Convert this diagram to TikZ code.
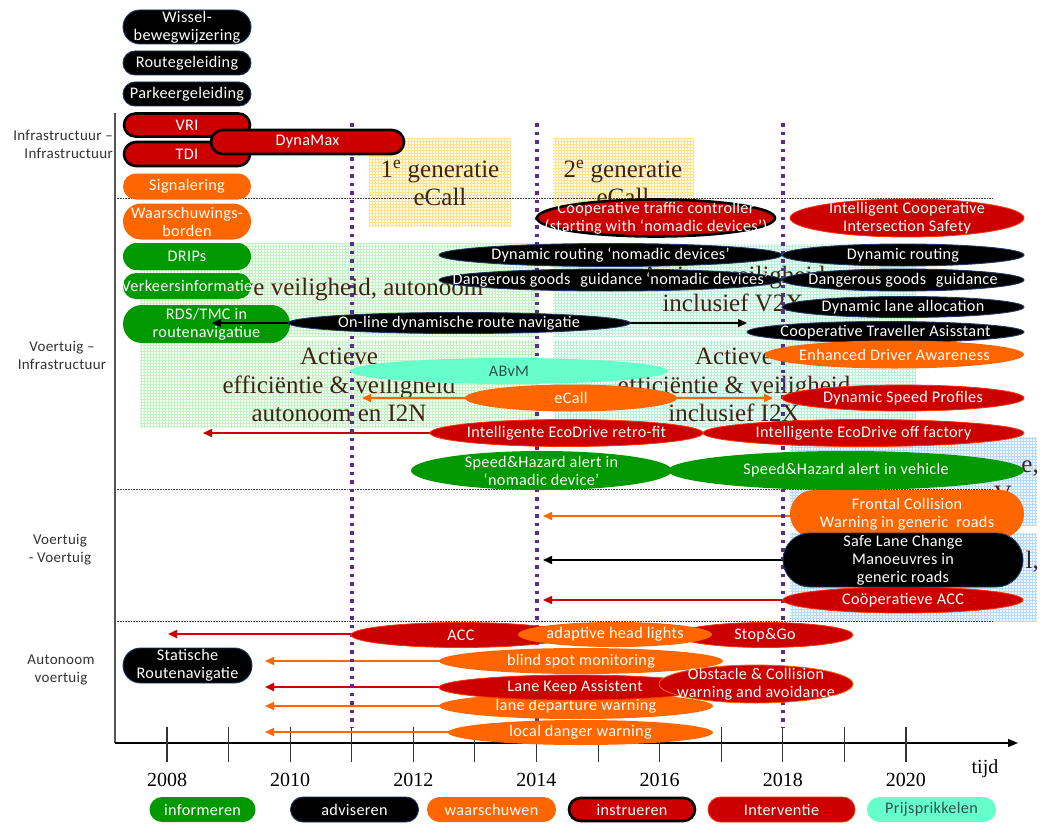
\documentclass[tikz,border=0pt]{standalone}
\usepackage{fontspec}
\setmainfont{Carlito}[LetterSpace=2]
\newfontfamily\bgserif{Liberation Serif}
\usetikzlibrary{shapes.geometric,shapes.misc,arrows.meta}

\definecolor{cgreen}{HTML}{009900}
\definecolor{cred}{HTML}{CC0000}
\definecolor{cedge}{HTML}{FF3300}
\definecolor{corange}{HTML}{FF6600}
\definecolor{caqua}{HTML}{66FFCC}
\definecolor{cnavy}{HTML}{1F3864}
\definecolor{cpurple}{HTML}{5B2C8F}
\definecolor{cbgtext}{HTML}{3F2415}
\definecolor{caxis}{HTML}{555555}
\definecolor{clabel}{HTML}{333333}
\definecolor{cdark}{HTML}{2F4F4F}
\definecolor{gYellowF}{HTML}{FFFBE8}
\definecolor{gYellowL}{HTML}{FFE38C}
\definecolor{gGreenF}{HTML}{F4FFF4}
\definecolor{gGreenL}{HTML}{C4F2C4}
\definecolor{gMintF}{HTML}{F2FFF9}
\definecolor{gMintL}{HTML}{BDEFD8}
\definecolor{gBlueF}{HTML}{F0F7FF}
\definecolor{gBlueL}{HTML}{B8DAFA}

\newcommand\pillfont{\fontsize{16.2}{18}\selectfont}
\newcommand\bgfont{\bgserif\fontsize{25}{28.5}\selectfont}

% shape + text of one bar: shape, kind, name, x, y, width, height, text
\newcommand\pillnode[8]{%
  \node[#1, #2, minimum width=#6pt, minimum height=#7pt] (#3) at (#4,#5) {};
  \node[ptxt-#2] (#3-t) at (#3.center) {#8};}

% hatched background panel: x1, y1, x2, y2, fill, grid colour
\newcommand\gridpanel[6]{%
  \fill[#5] (#1,#2) rectangle (#3,#4);
  \draw[#6, line width=0.4pt] (#1,#2) grid[step=3pt] (#3,#4);}

\tikzset{
  shp/.style={inner sep=0pt, outer sep=0pt},
  stad/.style={shp, rounded rectangle},
  ell/.style={shp, ellipse},
  inform/.style={fill=cgreen, draw=none},
  advise/.style={fill=black, draw=cnavy, line width=0.9pt},
  warn/.style={fill=corange, draw=none},
  instr/.style={fill=cred, draw=black, line width=2.6pt},
  interv/.style={fill=cred, draw=cedge, line width=0.8pt},
  price/.style={fill=caqua, draw=none},
  ptxt/.style={inner sep=0pt, align=center, text=white, font=\pillfont},
  ptxt-inform/.style={ptxt},
  ptxt-advise/.style={ptxt},
  ptxt-warn/.style={ptxt},
  ptxt-instr/.style={ptxt},
  ptxt-interv/.style={ptxt},
  ptxt-price/.style={ptxt, text=cdark},
  bgtxt/.style={inner sep=0pt, align=center, text=cbgtext, font=\bgfont},
  sidelbl/.style={inner sep=0pt, text=clabel, font=\fontsize{15}{18}\selectfont},
  yearlbl/.style={inner sep=0pt, font=\bgserif\fontsize{20}{22}\selectfont},
  sep/.style={black!75, line width=0.7pt, dash pattern=on 0.8pt off 0.8pt},
  purpleline/.style={cpurple, line width=4pt, dash pattern=on 3.5pt off 5pt},
  tip/.style={-{Triangle[length=9pt,width=8pt]}},
  tips/.style={{Triangle[length=9pt,width=8pt]}-{Triangle[length=9pt,width=8pt]}},
  arr/.style={line width=1.6pt, tip},
}

\begin{document}
\begin{tikzpicture}[x=1pt,y=-1pt]
\useasboundingbox (0,0) rectangle (1043,824);
\fill[white] (0,0) rectangle (1043,824);

% ---------- hatched panels ----------
\gridpanel{369}{138}{511}{227}{gYellowF}{gYellowL}
\gridpanel{553}{138}{693}{227}{gYellowF}{gYellowL}
\gridpanel{140}{243}{538}{336}{gGreenF}{gGreenL}
\gridpanel{140}{340}{538}{428}{gGreenF}{gGreenL}
\gridpanel{553}{244}{915}{337}{gMintF}{gMintL}
\gridpanel{553}{340}{915}{428}{gMintF}{gMintL}
\gridpanel{790}{437}{1037}{525}{gBlueF}{gBlueL}
\gridpanel{790}{533}{1037}{622}{gBlueF}{gBlueL}

% ---------- panel texts ----------
\node[bgtxt] (t1e) at (440,183) {1\textsuperscript{e} generatie\\eCall};
\node[bgtxt] (t2e) at (623,183) {2\textsuperscript{e} generatie\\eCall};
\node[bgtxt] (tvz) at (335,290) {Actieve veiligheid, autonoom};
\node[bgtxt] (tvi) at (339,385) {Actieve\\efficiëntie \& veiligheid\\autonoom en I2N};
\node[bgtxt] (tv2x) at (733,289) {Actieve veiligheid\\inclusief V2X};
\node[bgtxt] (ti2x) at (734,385) {Actieve\\efficiëntie \& veiligheid\\inclusief I2X};
\node[bgtxt, anchor=east] (tbl1) at (1039,469) {e,};
\node[bgtxt] (tbl2) at (1003,494) {V};
\node[bgtxt, anchor=east] (tbl3) at (1039,562) {l,};

% ---------- section separators ----------
\draw[sep] (115,198) -- (993,198);
\draw[sep] (115,489) -- (993,489);
\draw[sep] (115,621) -- (993,621);

% ---------- axes ----------
\draw[caxis, line width=1.5pt] (115,113) -- (115,743);
\draw[black, line width=1.3pt, -{Triangle[length=10pt,width=8pt]}] (115,743) -- (1018,743);
\foreach \i in {0,...,12}
  \draw[black!80, line width=1.1pt] ({167+61.58*\i},727) -- ({167+61.58*\i},762);
\foreach \i/\yr in {0/2008,2/2010,4/2012,6/2014,8/2016,10/2018,12/2020}
  \node[yearlbl] (y\yr) at ({167+61.58*\i},780) {\yr};
\node[yearlbl] (tijd) at (985,769) {tijd};

% ---------- row labels ----------
\node[sidelbl, align=right, anchor=east] (lii) at (113,144) {Infrastructuur –\\Infrastructuur};
\node[sidelbl, align=center] (lvi) at (62,355) {Voertuig –\\Infrastructuur};
\node[sidelbl, align=center] (lvv) at (60,550) {Voertuig\\- Voertuig};
\node[sidelbl, align=center] (lav) at (61,670) {Autonoom\\voertuig};

% ---------- arrows pointing back in time ----------
\coordinate (ecoA) at (432,433);   \coordinate (ecoB) at (203,433);
\coordinate (fcwA) at (792,516);   \coordinate (fcwB) at (543,516);
\coordinate (slcA) at (784,560);   \coordinate (slcB) at (543,560);
\coordinate (caccA) at (784,600);  \coordinate (caccB) at (543,600);
\coordinate (accA) at (353,634);   \coordinate (accB) at (168,634);
\coordinate (bsmA) at (441,661);   \coordinate (bsmB) at (265,661);
\coordinate (lkaA) at (441,687);   \coordinate (lkaB) at (265,687);
\coordinate (ldwA) at (441,706);   \coordinate (ldwB) at (265,706);
\coordinate (lddA) at (450,732);   \coordinate (lddB) at (265,732);
\coordinate (ecL) at (362,398);    \coordinate (ecR) at (773,398);
\draw[arr, cred] (ecoA) -- (ecoB);
\draw[arr, corange] (fcwA) -- (fcwB);
\draw[arr, black] (slcA) -- (slcB);
\draw[arr, cred] (caccA) -- (caccB);
\draw[arr, cred] (accA) -- (accB);
\draw[arr, corange] (bsmA) -- (bsmB);
\draw[arr, cred] (lkaA) -- (lkaB);
\draw[arr, corange] (ldwA) -- (ldwB);
\draw[arr, corange] (lddA) -- (lddB);
\draw[line width=1.6pt, tips, corange] (ecL) -- (ecR);

% ---------- milestones 2011, 2014, 2018 ----------
\foreach \x in {351.7,536.5,783}
  \draw[purpleline] (\x,123) -- (\x,727);

% ---------- infrastructure column ----------
\pillnode{stad}{advise}{wissel}{187}{27}{128}{34}{Wissel-\\bewegwijzering}
\pillnode{stad}{advise}{route}{187}{63}{128}{24}{Routegeleiding}
\pillnode{stad}{advise}{parkeer}{187}{94}{128}{24}{Parkeergeleiding}
\pillnode{stad}{instr}{vri}{187}{125}{126}{23}{VRI}
\pillnode{stad}{instr}{tdi}{187}{154}{126}{24}{TDI}
\pillnode{stad}{instr}{dynamax}{307.5}{142}{193}{24}{DynaMax}
\pillnode{stad}{warn}{signal}{187}{186.5}{128}{26}{Signalering}
\pillnode{stad}{warn}{borden}{187}{221.5}{128}{36}{Waarschuwings-\\borden}
\pillnode{stad}{inform}{drips}{187}{256.5}{128}{27}{DRIPs}
\pillnode{stad}{inform}{verkeer}{187}{286}{128}{26}{Verkeersinformatie}
\pillnode{stad}{inform}{rds}{206.5}{324}{167}{38}{RDS/TMC in\\routenavigatiue}

% ---------- vehicle - infrastructure ----------
\coordinate (navL) at (212,323);  \coordinate (navR) at (747,323);
\draw[line width=1.4pt, tips, black] (navL) -- (navR);
\pillnode{ell}{advise}{online}{459}{323}{342}{21}{On-line dynamische route navigatie}
\pillnode{ell}{instr}{ctc}{656}{218}{238}{37}{Cooperative traffic controller\\(starting with ‘nomadic devices’)}
\pillnode{ell}{interv}{icis}{907}{218}{234}{38}{Intelligent Cooperative\\Intersection Safety}
\pillnode{ell}{advise}{dynrN}{610.5}{255}{343}{23}{Dynamic routing ‘nomadic devices’}
\pillnode{ell}{advise}{dynr}{903}{255}{242}{22}{Dynamic routing}
\pillnode{ell}{advise}{dgN}{610.5}{280}{343}{22}{Dangerous goods\hspace{.6em}guidance ‘nomadic devices’}
\pillnode{ell}{advise}{dg}{903}{280}{242}{22}{Dangerous goods\hspace{.6em}guidance}
\pillnode{ell}{advise}{dla}{903}{307}{242}{21}{Dynamic lane allocation}
\pillnode{ell}{advise}{cta}{885.5}{332}{277}{21}{Cooperative Traveller Asisstant}
\pillnode{ell}{warn}{eda}{894.5}{354.5}{259}{28}{Enhanced Driver Awareness}
\pillnode{ell}{price}{abvm}{509}{371}{318}{26}{ABvM}
\pillnode{ell}{warn}{ecall}{571}{398}{212}{27}{eCall}
\pillnode{ell}{interv}{dsp}{903}{398}{242}{26}{Dynamic Speed Profiles}
\pillnode{ell}{interv}{ecoR}{566.5}{433}{273}{27}{Intelligente EcoDrive retro-fit}
\pillnode{ell}{interv}{ecoF}{863.5}{433}{321}{27}{Intelligente EcoDrive off factory}
\pillnode{ell}{inform}{shN}{541.5}{470.5}{261}{39}{Speed\&Hazard alert in\\‘nomadic device’}
\pillnode{ell}{inform}{shV}{846}{470.5}{356}{39}{Speed\&Hazard alert in vehicle}

% ---------- vehicle - vehicle ----------
\pillnode{stad}{warn}{fcw}{907}{514}{234}{48}{Frontal Collision\\Warning in generic\hspace{.5em}roads}
\pillnode{ell}{interv}{cacc}{903}{600}{240}{26}{Coöperatieve ACC}
\pillnode{stad}{advise}{slc}{903}{560}{240}{54}{Safe Lane Change\\Manoeuvres in\\generic roads}

% ---------- autonomous vehicle ----------
\pillnode{stad}{advise}{stat}{187.5}{665.5}{129}{35}{Statische\\Routenavigatie}
\pillnode{ell}{interv}{acc}{461}{635}{220}{25}{ACC}
\pillnode{ell}{interv}{stopgo}{765}{635}{176}{25}{Stop\&Go}
\pillnode{ell}{warn}{ahl}{615}{634.5}{194}{25}{adaptive head lights}
\pillnode{ell}{warn}{bsm}{581}{661}{284}{26}{blind spot monitoring}
\pillnode{ell}{warn}{ldw}{576}{706}{274}{26}{lane departure warning}
\pillnode{ell}{interv}{lka}{575}{687.5}{272}{25}{Lane Keep Assistent}
\node[ell, fill=cred, draw=corange, line width=0.8pt, minimum width=194pt, minimum height=38pt] (oca) at (756,684) {};
\node[ptxt] (oca-t) at (oca.center) {Obstacle \& Collision\\warning and avoidance};
\pillnode{ell}{warn}{ldd}{580.5}{732.5}{265}{25}{local danger warning}

% ---------- legend ----------
\pillnode{stad}{inform}{kInf}{202.5}{809.5}{106}{25}{informeren}
\pillnode{stad}{advise}{kAdv}{354.5}{809.5}{128}{25}{adviseren}
\pillnode{stad}{warn}{kWarn}{491.5}{809.5}{129}{25}{waarschuwen}
\pillnode{stad}{instr}{kInstr}{632}{809.5}{126}{23}{instrueren}
\pillnode{stad}{interv}{kInt}{781.5}{809.5}{147}{25}{Interventie}
\pillnode{stad}{price}{kPrice}{931.5}{809.5}{129}{25}{Prijsprikkelen}
\end{tikzpicture}
\end{document}
